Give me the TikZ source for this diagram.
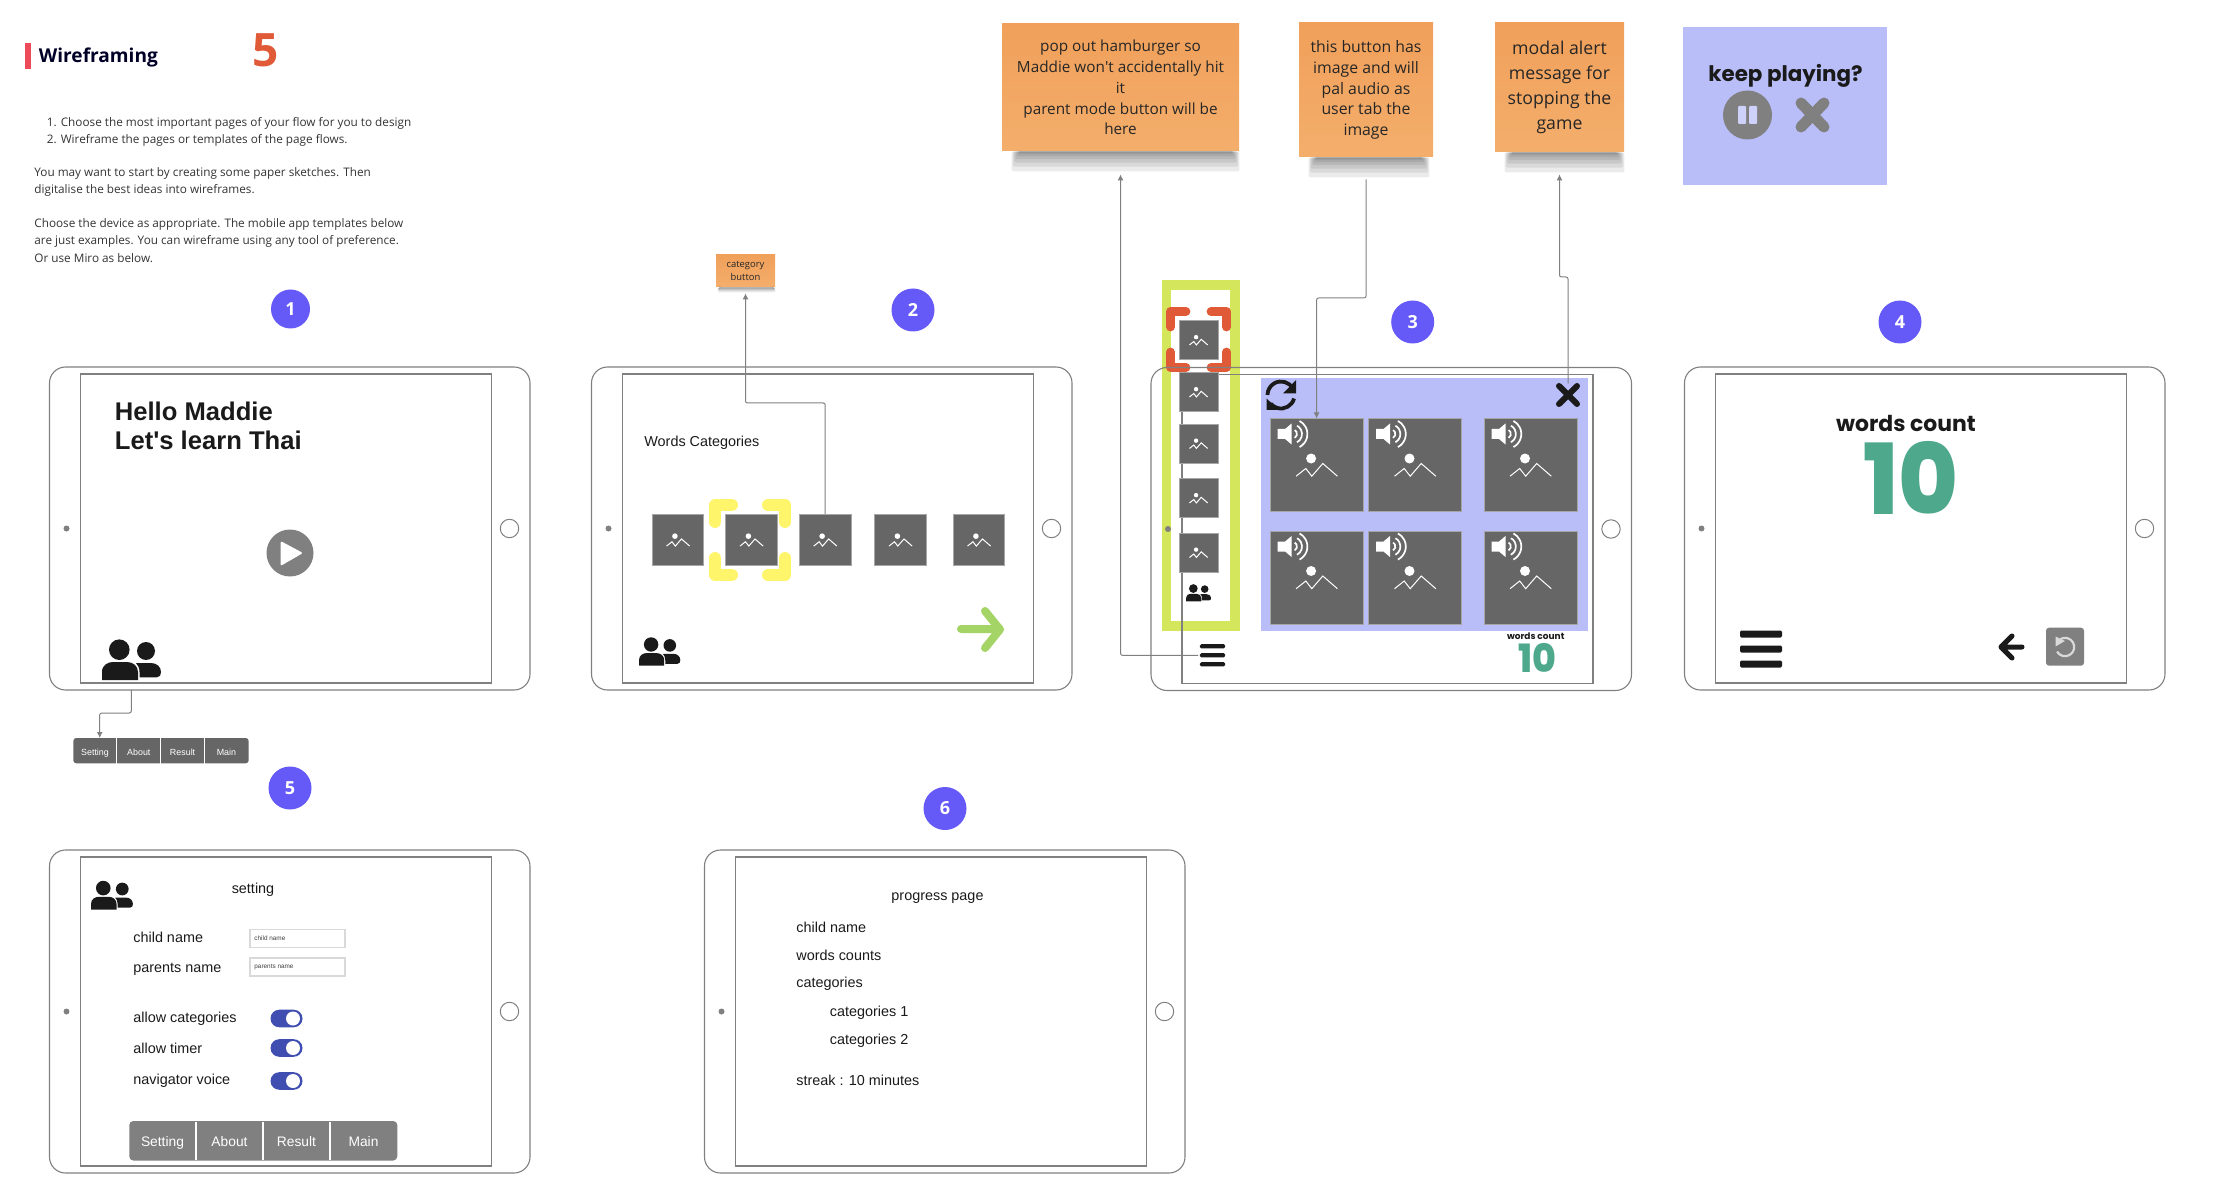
\documentclass[tikz,border=0pt]{standalone}
\usepackage{fontspec}
\setmainfont{Open Sans}
\newfontfamily\wirefont{Liberation Sans}
\newfontfamily\roundfont{Poppins}
\newfontfamily\heavyfont{Poppins ExtraBold}
\usetikzlibrary{positioning}
\usetikzlibrary{calc}
\usetikzlibrary{arrows.meta}
\definecolor{badgeblue}{HTML}{6559F7}
\definecolor{tilegrey}{HTML}{666666}
\definecolor{midgrey}{HTML}{808080}
\definecolor{inkblack}{HTML}{1A1A1A}
\definecolor{notetop}{HTML}{F0A05A}
\definecolor{notebottom}{HTML}{F4AE6C}
\definecolor{modalblue}{HTML}{B9BEF8}
\definecolor{panelgreen}{HTML}{D4E65C}
\definecolor{markred}{HTML}{E05A38}
\definecolor{barred}{HTML}{EE4B5A}
\definecolor{markyellow}{HTML}{FFF56B}
\definecolor{arrowgreen}{HTML}{A3D465}
\definecolor{countgreen}{HTML}{4EA88C}
\definecolor{toggleblue}{HTML}{3F4EB0}
\newcommand{\notedrop}[4]{%
  \foreach \i in {0,...,7}
    \fill[black, opacity=0.08, rounded corners=1pt] ([xshift=#2+\i*#4/16]#1.south west) rectangle ([xshift=-#3-\i*#4/16, yshift=-#4*(1-\i/8)*(1-\i/8)]#1.south east);
}
\tikzset{
  badge/.style={circle, fill=badgeblue, text=white, inner sep=0pt, minimum size=21.5pt, font=\bfseries\fontsize{9pt}{10pt}\selectfont},
  wiretext/.style={inner sep=0pt, text=inkblack, font=\wirefont\fontsize{7.2pt}{8pt}\selectfont},
  brieftext/.style={inner sep=0pt, anchor=west, text=black!80, font=\fontsize{5.88pt}{8.5pt}\selectfont},
  note/.style={rectangle, top color=notetop, bottom color=notebottom, align=center, inner sep=0pt, text=black!85},
  link/.style={draw=midgrey, line width=0.5pt, rounded corners=1pt},
  linkarrow/.style={link, -{Latex[length=3pt, width=3pt]}},
  phototile/.style={rectangle, fill=tilegrey, draw=black!35, line width=0.4pt, inner sep=0pt, outer sep=0pt},
  cell/.style={rectangle, text=white, inner sep=0pt, outer sep=0pt, align=center, text height=1.55ex, text depth=0.25ex},
  menucell/.style={cell, minimum width=21.6pt, minimum height=12.6pt, font=\wirefont\fontsize{4.45pt}{5pt}\selectfont},
  pagecell/.style={cell, minimum width=33pt, minimum height=19.5pt, font=\wirefont\fontsize{6.9pt}{8pt}\selectfont},
  inputbox/.style={rectangle, draw=black!15, line width=0.6pt, fill=white, inner sep=0pt, minimum width=47.5pt, minimum height=9pt},
  bracket/.style={line width=#1, line cap=round, line join=round},
  toggle/.pic={
    \fill[toggleblue, rounded corners=4.4pt] (-16,-8.8) rectangle (16,8.8);
    \fill[white] (6.5,0) circle[radius=3.5pt];
  },
  tablet/.pic={
    \node[draw=midgrey, line width=0.55pt, rounded corners=8pt, minimum width=240.25pt, minimum height=161.5pt, anchor=north west, inner sep=0pt, outer sep=0pt] (outer) at (0,0) {};
    \node[draw=midgrey, line width=0.6pt, minimum width=205.5pt, minimum height=154.5pt, anchor=north west, inner sep=0pt, outer sep=0pt] (screen) at (31,7) {};
    \fill[midgrey] (17,161.5) circle[radius=1.5pt];
    \draw[midgrey, line width=0.5pt] (460,161.5) circle[radius=4.6pt];
  },
  mountain/.pic={
    \fill[white] (-5.5,-6.5) circle[radius=2.5pt];
    \draw[white, line width=0.5pt, line join=miter] (-20.5,11.2) -- (-10.8,3.5) -- (-4.8,11.2) -- (6.2,-1.5) -- (20.8,11.2);
  },
  speaker/.pic={
    \fill[white] (-39,-36) -- (-31.5,-36) -- (-25,-41.5) -- (-25,-20.5) -- (-31.5,-26) -- (-39,-26) -- cycle;
    \foreach \rad in {2.2,4.7,7.4}
      \draw[white, line width=0.85pt] (-24,-31) ++(-62:\rad pt) arc[start angle=-62, end angle=62, radius=\rad pt];
  },
  people/.pic={
    \fill[inkblack] (17.3,10.7) circle[radius=5.15pt];
    \fill[inkblack] (44,12) circle[radius=4.5pt];
    \fill[inkblack] (0,41) -- (0,33) .. controls (0,26) and (6,23) .. (11,23) -- (25,23) .. controls (31,23) and (36,27) .. (36,33) -- (36,41) -- cycle;
    \fill[inkblack] (37.5,38.3) -- (37.5,33) .. controls (37.5,29) and (36,26) .. (34,24) -- (49,24) .. controls (55,24) and (59,28) .. (59,33) .. controls (59,36) and (58,38.3) .. (55,38.3) -- cycle;
  },
  burger/.pic={
    \foreach \bar in {-1,0,1}
      \fill[inkblack, rounded corners=0.7pt] (-21,\bar*15-3.5) rectangle (21,\bar*15+3.5);
  }
}
\begin{document}
\begin{tikzpicture}[x=0.5pt, y=-0.5pt]
    \useasboundingbox (0,0) rectangle (2224,1198);

    % brief
    \fill[barred] (25,43) rectangle (31,69);
    \node[inner sep=0pt, anchor=west, text=black!85!blue, font=\bfseries\fontsize{9.55pt}{10pt}\selectfont] (brief_title) at (38.5,57) {Wireframing};
    \node[inner sep=0pt, text=markred, font=\bfseries\fontsize{23pt}{24pt}\selectfont] (brief_score) at (266,50.5) {5};
    \node[brieftext] (brief_a) at (46.5,123.5) {1. Choose the most important pages of your flow for you to design};
    \node[brieftext] (brief_b) at (46.5,140.5) {2. Wireframe the pages or templates of the page flows.};
    \node[brieftext] (brief_c) at (34,173.5) {You may want to start by creating some paper sketches. Then};
    \node[brieftext] (brief_d) at (34,190.5) {digitalise the best ideas into wireframes.};
    \node[brieftext] (brief_e) at (34,224.5) {Choose the device as appropriate. The mobile app templates below};
    \node[brieftext] (brief_f) at (34,241.5) {are just examples. You can wireframe using any tool of preference.};
    \node[brieftext] (brief_g) at (34,258) {Or use Miro as below.};

    % badges
    \node[badge, minimum size=19.5pt] (badge_1) at (290.5,309) {1};
    \node[badge] (badge_2) at (913,310) {2};
    \node[badge] (badge_3) at (1412.7,322) {3};
    \node[badge] (badge_4) at (1900,322) {4};
    \node[badge] (badge_5) at (290,788) {5};
    \node[badge] (badge_6) at (945,808.5) {6};

    % sticky notes
    \node[note, minimum width=118.5pt, minimum height=63.5pt, font=\fontsize{7.65pt}{10.4pt}\selectfont] (note_burger) at (1120.5,87.5) {pop out hamburger so\\Maddie won\textquotesingle t accidentally hit\\it\\parent mode button will be\\here};
    \node[note, minimum width=67pt, minimum height=67pt, font=\fontsize{7.9pt}{10.4pt}\selectfont] (note_audio) at (1366,90) {this button has\\image and will\\pal audio as\\user tab the\\image};
    \node[note, minimum width=64.5pt, minimum height=64.5pt, font=\fontsize{8.85pt}{12.4pt}\selectfont] (note_modal) at (1559.5,87.5) {modal alert\\message for\\stopping the\\game};
    \node[note, minimum width=29.5pt, minimum height=16pt, font=\fontsize{4.7pt}{6.5pt}\selectfont] (note_category) at (745.5,271) {category\\button};
    \notedrop{note_burger}{5}{0}{10}
    \notedrop{note_audio}{5}{2}{10}
    \notedrop{note_modal}{5}{0}{10}
    \notedrop{note_category}{1}{0}{2.5}
    \coordinate[below=11.5pt of note_burger] (burger_tip);
    \coordinate[below=11pt of note_audio] (audio_start);
    \coordinate[below=11pt of note_modal] (modal_tip);
    \coordinate[below=3pt of note_category] (category_tip);

    % modal
    \node[rectangle, fill=modalblue, inner sep=0pt, minimum width=102.25pt, minimum height=79pt] (modal) at (1785,106) {};
    \node[inner sep=0pt, text=inkblack, font=\roundfont\bfseries\fontsize{10.7pt}{12pt}\selectfont] (modal_title) at (1785.5,76) {keep playing?};
    \node[circle, fill=midgrey, inner sep=0pt, minimum size=24.5pt] (modal_pause) at (1747.5,115) {};
    \fill[modalblue!70!white, rounded corners=0.5pt] (1738,106) rectangle (1746,124) (1749,106) rectangle (1757,124);
    \draw[midgrey, line width=5.5pt, line cap=round] (1801,103) -- (1824,127) (1824,103) -- (1801,127);

    % page 1
    \pic (t1) at (49.5,367) {tablet};
    \node[wiretext, anchor=west, align=left, font=\wirefont\bfseries\fontsize{12.8pt}{14.3pt}\selectfont] (hello) at (114.5,426) {Hello Maddie\\Let\textquotesingle s learn Thai};
    \node[circle, fill=midgrey, inner sep=0pt, minimum size=23.5pt] (play) at (290,553) {};
    \fill[white, rounded corners=1pt] (280.5,541) -- (303,553) -- (280.5,566) -- cycle;
    \pic at (102,639) {people};
    \coordinate (t1_exit) at (131.3,690);
    \coordinate (t1_bend) at (99.7,713);
    \fill[tilegrey, rounded corners=1.5pt] (73.3,738) rectangle (248.7,763.3);
    \node[menucell] (menu_setting) at (95,749) {Setting};
    \node[menucell, right=0.3pt of menu_setting] (menu_about) {About};
    \node[menucell, right=0.3pt of menu_about] (menu_result) {Result};
    \node[menucell, right=0.3pt of menu_result] (menu_main) {Main};
    \foreach \cellname in {menu_setting,menu_about,menu_result}
      \draw[white, line width=0.5pt] ([xshift=0.15pt,yshift=-0.5pt]\cellname.north east) -- ([xshift=0.15pt,yshift=-1pt]\cellname.south east);
    \draw[linkarrow] (t1_exit) |- (t1_bend) -- (t1_bend |- 0,738);

    % page 2
    \pic (t2) at (591.5,367) {tablet};
    \node[wiretext, anchor=west] (words_label) at (644,443) {Words Categories};
    \draw[markyellow, bracket=6pt] (715,522) -- (715,505) -- (732,505) (768,505) -- (785,505) -- (785,522) (785,558) -- (785,575) -- (768,575) (732,575) -- (715,575) -- (715,558);
    \foreach \catname/\xpos in {cat_a/678, cat_b/751.5, cat_c/825.2, cat_d/900.5, cat_e/979} {
      \node[phototile, minimum size=25.75pt] (\catname) at (\xpos,539.8) {};
      \pic[scale=0.56] at (\catname) {mountain};
    }
    \pic[scale=0.7] at (639,637) {people};
    \draw[arrowgreen, line width=4pt, line cap=round, line join=round] (961,629) -- (998,629) (985,611) -- (1000,629.5) -- (985,648);
    \coordinate (cat_bend) at (745.5,403);
    \draw[linkarrow] (cat_c.north) |- (cat_bend) -- (category_tip);

    % page 3
    \draw[panelgreen, line width=4.75pt] (1166.5,285) rectangle (1235,626);
    \draw[markred, bracket=4.4pt] (1170.5,327) -- (1170.5,311.5) -- (1186,311.5) (1211,311.5) -- (1226.5,311.5) -- (1226.5,327) (1226.5,352) -- (1226.5,367.5) -- (1211,367.5) (1186,367.5) -- (1170.5,367.5) -- (1170.5,352);
    \pic (t3) at (1151,367.5) {tablet};
    \foreach \colname/\ypos in {col_a/340, col_b/392, col_c/443.5, col_d/498, col_e/552.5} {
      \node[phototile, minimum size=19.5pt] (\colname) at (1198.5,\ypos) {};
      \pic[scale=0.44] at (\colname) {mountain};
    }
    \pic[scale=0.425] at (1186,584) {people};
    \node[rectangle, fill=modalblue, inner sep=0pt, minimum width=163.5pt, minimum height=126.5pt] (sheet) at (1424.5,504.5) {};
    \draw[inkblack, line width=1.9pt] (1281,395) ++(30:6.75pt) arc[start angle=30, end angle=180, radius=6.75pt];
    \draw[inkblack, line width=1.9pt] (1281,395) ++(-15:6.75pt) arc[start angle=-15, end angle=-140, radius=6.75pt];
    \fill[inkblack] (1296,380) -- (1296,393.5) -- (1283,393.5) -- cycle;
    \fill[inkblack] (1266.5,410) -- (1266.5,398.5) -- (1279,410) -- cycle;
    \node[inner sep=0pt, minimum size=11pt] (sheet_close) at (1568,395) {};
    \draw[inkblack, line width=3pt, line cap=round] (1559,386) -- (1577,404) (1577,386) -- (1559,404);
    \foreach \audioname/\xpos/\ypos in {audio_a/1316.6/465, audio_b/1415/465, audio_c/1530.5/465, audio_d/1316.6/577.5, audio_e/1415/577.5, audio_f/1530.5/577.5} {
      \node[phototile, minimum size=46.5pt] (\audioname) at (\xpos,\ypos) {};
      \pic at (\audioname) {mountain};
      \pic at (\audioname) {speaker};
    }
    \pic[scale=0.6] at (1212.5,655.3) {burger};
    \coordinate (burger_west) at (1198,655.3);
    \node[inner sep=0pt, text=inkblack, font=\roundfont\bfseries\fontsize{4.5pt}{5pt}\selectfont] (count_small_label) at (1535.7,636) {words count};
    \node[inner sep=0pt, xscale=0.93, text=countgreen, font=\heavyfont\fontsize{19.5pt}{22pt}\selectfont] (count_small) at (1537,657.5) {10};
    \draw[linkarrow] (burger_west) -| (burger_tip);
    \coordinate (audio_bend) at (1366,298);
    \draw[linkarrow] (audio_start) -- (audio_bend) -| (audio_a.north);
    \coordinate (modal_bend) at (1559.5,277);
    \draw[linkarrow] (sheet_close.north) |- (modal_bend) -- (modal_tip);

    % page 4
    \pic (t4) at (1684.5,367) {tablet};
    \node[inner sep=0pt, text=inkblack, font=\roundfont\bfseries\fontsize{10.95pt}{12pt}\selectfont] (count_label) at (1906,423) {words count};
    \node[inner sep=0pt, xscale=0.93, text=countgreen, font=\heavyfont\fontsize{49pt}{52pt}\selectfont] (count_big) at (1911,478) {10};
    \pic at (1761,649) {burger};
    \draw[inkblack, line width=2.5pt, line cap=round, line join=round] (2022,647) -- (2003,647) (2012,636) -- (2001,647) -- (2012,658);
    \node[rectangle, fill=midgrey, rounded corners=1.5pt, inner sep=0pt, minimum size=19pt] (reset) at (2065,646.7) {};
    \draw[black!15, line width=1.1pt] (2065,647) ++(120:4.6pt) arc[start angle=120, end angle=-150, radius=4.6pt];
    \fill[black!15] (2055.5,636.5) -- (2055.5,646.5) -- (2065,641) -- cycle;

    % page 5
    \pic (t5) at (49.5,850) {tablet};
    \pic[scale=0.71] at (91,880.5) {people};
    \node[wiretext] (set_title) at (253,890) {setting};
    \node[wiretext, anchor=west] (set_child) at (133,937.5) {child name};
    \node[wiretext, anchor=west] (set_parent) at (133,969) {parents name};
    \node[wiretext, anchor=west] (set_allow) at (133,1019) {allow categories};
    \node[wiretext, anchor=west] (set_timer) at (133,1048) {allow timer};
    \node[wiretext, anchor=west] (set_voice) at (133,1081) {navigator voice};
    \node[inputbox, anchor=west] (input_child) at (249.3,938.5) {};
    \node[inputbox, anchor=west] (input_parent) at (249.3,967) {};
    \node[wiretext, anchor=west, text=black!75, font=\wirefont\fontsize{3.2pt}{4pt}\selectfont] (input_child_text) at (254,938.5) {child name};
    \node[wiretext, anchor=west, text=black!75, font=\wirefont\fontsize{3.2pt}{4pt}\selectfont] (input_parent_text) at (254,967) {parents name};
    \pic at (286.5,1018.5) {toggle};
    \pic at (286.5,1048) {toggle};
    \pic at (286.5,1081) {toggle};
    \fill[midgrey, rounded corners=2pt] (129.3,1121) rectangle (397.3,1160.5);
    \node[pagecell] (btn_setting) at (162.5,1140) {Setting};
    \node[pagecell, right=0.5pt of btn_setting] (btn_about) {About};
    \node[pagecell, right=0.5pt of btn_about] (btn_result) {Result};
    \node[pagecell, right=0.5pt of btn_result] (btn_main) {Main};
    \foreach \cellname in {btn_setting,btn_about,btn_result}
      \draw[white, line width=0.7pt] ([xshift=0.25pt,yshift=-0.5pt]\cellname.north east) -- ([xshift=0.25pt,yshift=-0.25pt]\cellname.south east);

    % page 6
    \pic (t6) at (704.5,850) {tablet};
    \node[wiretext] (prog_title) at (937.5,898) {progress page};
    \node[wiretext, anchor=west] (prog_child) at (796,927.5) {child name};
    \node[wiretext, anchor=west] (prog_words) at (796,955) {words counts};
    \node[wiretext, anchor=west] (prog_cat) at (796,984) {categories};
    \node[wiretext, anchor=west] (prog_cat_a) at (829.5,1013) {categories 1};
    \node[wiretext, anchor=west] (prog_cat_b) at (829.5,1041) {categories 2};
    \node[wiretext, anchor=west] (prog_streak) at (796,1080.5) {streak : 10 minutes};
\end{tikzpicture}
\end{document}
